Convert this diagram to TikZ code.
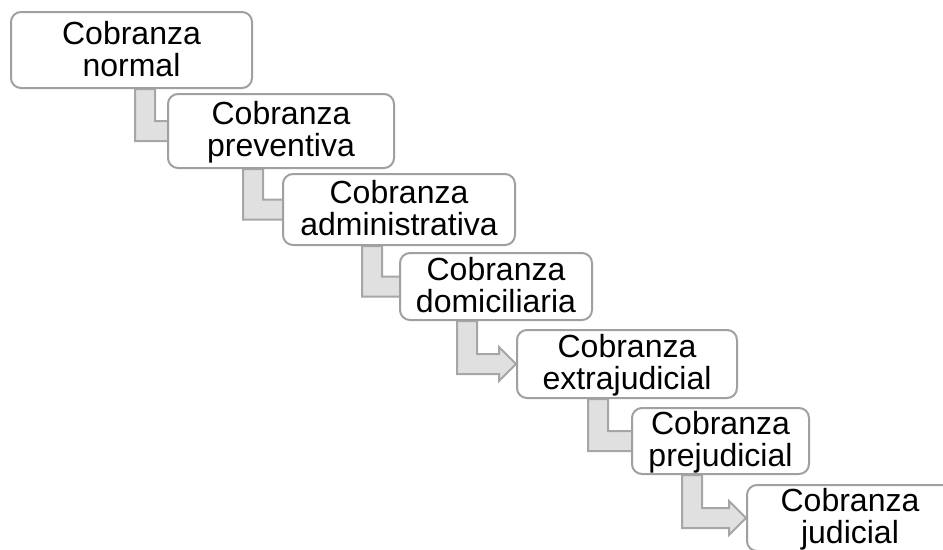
\documentclass[tikz,border=0pt]{standalone}
\usepackage{fontspec}
\setmainfont{Liberation Sans}
\usetikzlibrary{calc,backgrounds}

\definecolor{boxgray}{RGB}{160,160,160}
\definecolor{arrowgray}{RGB}{166,166,166}
\definecolor{arrowfill}{RGB}{224,224,224}

\tikzset{
  stepbox/.style={draw=boxgray, line width=1.5pt, fill=white, rounded corners=7.5pt,
    inner sep=0pt, align=center, font=\fontsize{24}{24}\selectfont},
  connector/.style={draw=arrowgray, line width=1.5pt, fill=arrowfill, line join=miter},
}

% strut for the two text lines
\newcommand{\lstrut}{\rule[-4.5pt]{0pt}{24pt}}

% bent arrow: from the bottom of #1 to the left side of #2
% #3 = x of the vertical leg, #4 = how far the tip goes into #2
\newcommand{\stepconn}[4]{%
  \coordinate (legL) at (#3,0);
  \coordinate (legR) at (#3+20,0);
  \draw[connector] (legL |- #1.south) -- ($(legL |- #2.west)+(0,10)$)
    -- ($(#2.west)+(#4-17,10)$) -- ($(#2.west)+(#4-17,17)$) -- ($(#2.west)+(#4,0)$)
    -- ($(#2.west)+(#4-17,-17)$) -- ($(#2.west)+(#4-17,-10)$)
    -- ($(legR |- #2.west)+(0,-10)$) -- (legR |- #1.south) -- cycle;}

\begin{document}
\begin{tikzpicture}[x=0.75pt, y=-0.75pt]
    \clip (0,0) rectangle (943,550);

    % los pasos
    \node[stepbox, minimum width=180.75pt, minimum height=57pt] (normal) at (131.5,50) {\lstrut Cobranza\\\lstrut normal};
    \node[stepbox, minimum width=169.5pt, minimum height=55.5pt] (preventiva) at (281,131) {\lstrut Cobranza\\\lstrut preventiva};
    \node[stepbox, minimum width=174pt, minimum height=53.25pt] (administrativa) at (399,209.5) {\lstrut Cobranza\\\lstrut administrativa};
    \node[stepbox, minimum width=144pt, minimum height=50.25pt] (domiciliaria) at (496,286.5) {\lstrut Cobranza\\\lstrut domiciliaria};
    \node[stepbox, minimum width=165pt, minimum height=51pt] (extrajudicial) at (627,364) {\lstrut Cobranza\\\lstrut extrajudicial};
    \node[stepbox, minimum width=132.75pt, minimum height=49.5pt] (prejudicial) at (720.5,441) {\lstrut Cobranza\\\lstrut prejudicial};
    \node[stepbox, minimum width=154.5pt, minimum height=49.5pt] (judicial) at (850,518) {\lstrut Cobranza\\\lstrut judicial};

    % flechas detras de las cajas
    \begin{pgfonlayer}{background}
        \stepconn{normal}{preventiva}{135}{20}
        \stepconn{preventiva}{administrativa}{243}{20}
        \stepconn{administrativa}{domiciliaria}{362}{20}
        \stepconn{domiciliaria}{extrajudicial}{457}{0}
        \stepconn{extrajudicial}{prejudicial}{588}{20}
        \stepconn{prejudicial}{judicial}{682}{0}
    \end{pgfonlayer}
\end{tikzpicture}
\end{document}
